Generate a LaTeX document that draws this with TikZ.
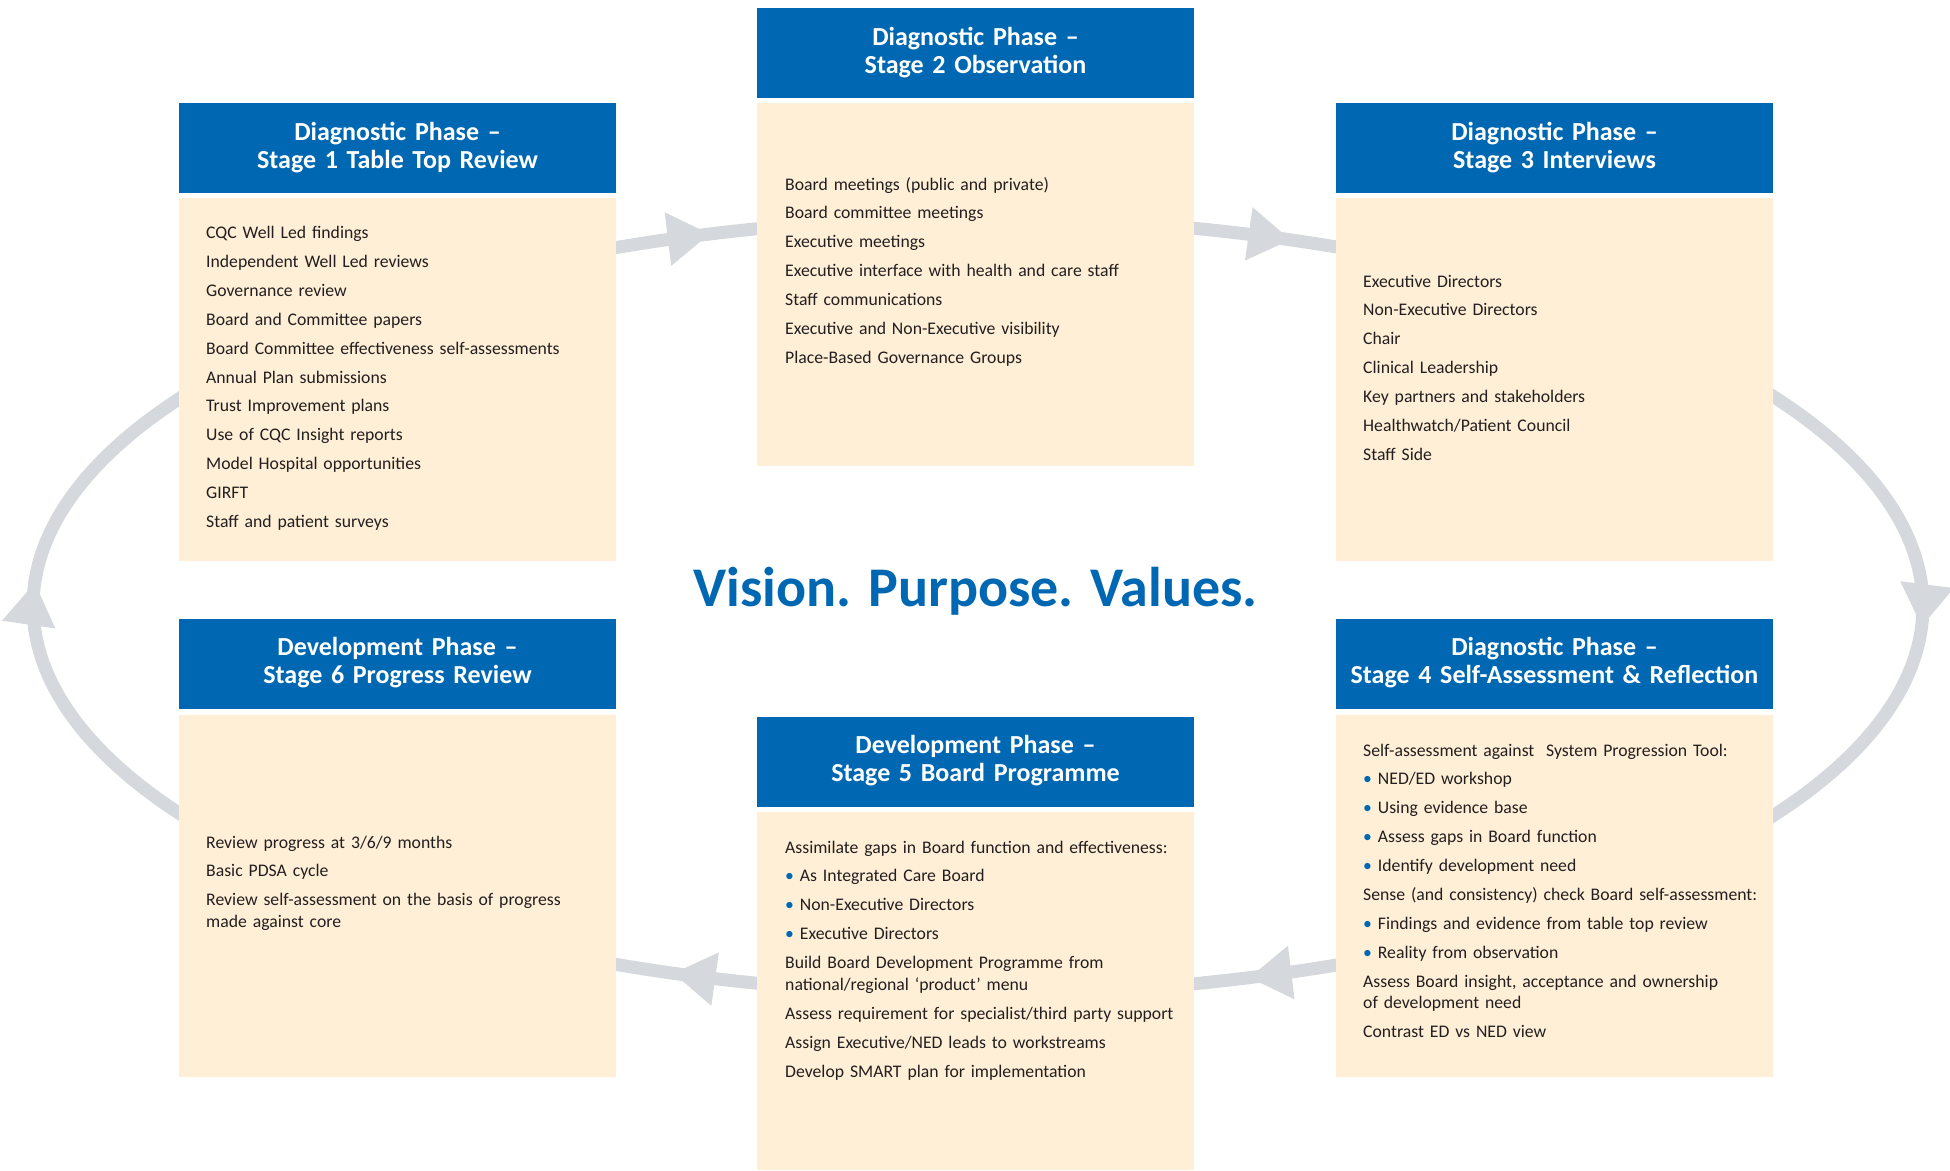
\documentclass[tikz,border=0pt]{standalone}
\usepackage{fontspec}
\setmainfont{Carlito}
\definecolor{hblue}{RGB}{0,104,179}
\definecolor{cream}{RGB}{254,239,214}
\definecolor{ringgray}{RGB}{213,216,220}
\definecolor{bodytext}{RGB}{35,31,32}
\newcommand{\bul}{{\color{hblue}\textbullet}\ }
\tikzset{
  hdrbox/.style={anchor=north west, fill=hblue, inner sep=0pt, minimum width=437pt, minimum height=90pt},
  bodyrect/.style={anchor=north west, fill=cream, inner sep=0pt, minimum width=437pt},
  hdrtext/.style={anchor=base, text width=437pt, align=center, inner sep=0pt, text=white,
    font=\fontsize{26}{28}\selectfont\bfseries},
  bodytxt/.style={anchor=base west, text width=420pt, align=left, inner sep=0pt, text=bodytext,
    font=\fontsize{17.7}{21.7}\selectfont},
  titletext/.style={anchor=base, inner sep=0pt, text=hblue, font=\fontsize{56}{60}\selectfont\bfseries}
}
\begin{document}
\begin{tikzpicture}[x=1pt,y=-1pt]
\useasboundingbox (0,0) rectangle (1950,1170);
% cycle ring
\draw[line width=13pt, ringgray] plot[domain=0:360, samples=200, smooth] ({978+945*cos(\x)},{606+388*sin(\x)}) -- cycle;
\foreach \t in {-106.5,-70.7,3,73.3,108.8,183.4} {
  \pgfmathsetmacro\px{978+945*cos(\t)}
  \pgfmathsetmacro\py{606+388*sin(\t)}
  \pgfmathsetmacro\dx{-0.945*sin(\t)}
  \pgfmathsetmacro\dy{0.388*cos(\t)}
  \pgfmathsetmacro\dl{sqrt(\dx*\dx+\dy*\dy)}
  \pgfmathsetmacro\ux{\dx/\dl}
  \pgfmathsetmacro\uy{\dy/\dl}
  \fill[ringgray] (\px,\py) -- ({\px-42*\ux-27*\uy},{\py-42*\uy+27*\ux}) -- ({\px-42*\ux+27*\uy},{\py-42*\uy-27*\ux}) -- cycle;
}
% Stage 1
\node[hdrbox] (h1) at (179,103) {};
\node[bodyrect, minimum height=363pt] (b1) at (179,198) {};
\node[hdrtext] (t1) at (397.5,140) {Diagnostic Phase –\\Stage 1 Table Top Review};
\node[bodytxt] (l1) at (206,238.5) {CQC Well Led findings\\[7.2pt]
Independent Well Led reviews\\[7.2pt]
Governance review\\[7.2pt]
Board and Committee papers\\[7.2pt]
Board Committee effectiveness self-assessments\\[7.2pt]
Annual Plan submissions\\[7.2pt]
Trust Improvement plans\\[7.2pt]
Use of CQC Insight reports\\[7.2pt]
Model Hospital opportunities\\[7.2pt]
GIRFT\\[7.2pt]
Staff and patient surveys};
% Stage 2
\node[hdrbox] (h2) at (757,8) {};
\node[bodyrect, minimum height=363pt] (b2) at (757,103) {};
\node[hdrtext] (t2) at (975.5,45) {Diagnostic Phase –\\Stage 2 Observation};
\node[bodytxt] (l2) at (785,190) {Board meetings (public and private)\\[7.2pt]
Board committee meetings\\[7.2pt]
Executive meetings\\[7.2pt]
Executive interface with health and care staff\\[7.2pt]
Staff communications\\[7.2pt]
Executive and Non-Executive visibility\\[7.2pt]
Place-Based Governance Groups};
% Stage 3
\node[hdrbox] (h3) at (1336,103) {};
\node[bodyrect, minimum height=363pt] (b3) at (1336,198) {};
\node[hdrtext] (t3) at (1554.5,140) {Diagnostic Phase –\\Stage 3 Interviews};
\node[bodytxt] (l3) at (1363,287) {Executive Directors\\[7.2pt]
Non-Executive Directors\\[7.2pt]
Chair\\[7.2pt]
Clinical Leadership\\[7.2pt]
Key partners and stakeholders\\[7.2pt]
Healthwatch/Patient Council\\[7.2pt]
Staff Side};
% Stage 4
\node[hdrbox] (h4) at (1336,619) {};
\node[bodyrect, minimum height=362pt] (b4) at (1336,715) {};
\node[hdrtext] (t4) at (1554.5,655) {Diagnostic Phase –\\Stage 4 Self-Assessment \& Reflection};
\node[bodytxt] (l4) at (1363,756) {Self-assessment against\ \ System Progression Tool:\\[7.2pt]
\bul NED/ED workshop\\[7.2pt]
\bul Using evidence base\\[7.2pt]
\bul Assess gaps in Board function\\[7.2pt]
\bul Identify development need\\[7.2pt]
Sense (and consistency) check Board self-assessment:\\[7.2pt]
\bul Findings and evidence from table top review\\[7.2pt]
\bul Reality from observation\\[7.2pt]
Assess Board insight, acceptance and ownership\\of development need\\[7.2pt]
Contrast ED vs NED view};
% Stage 5
\node[hdrbox] (h5) at (757,717) {};
\node[bodyrect, minimum height=358pt] (b5) at (757,812) {};
\node[hdrtext] (t5) at (975.5,753) {Development Phase –\\Stage 5 Board Programme};
\node[bodytxt] (l5) at (785,853) {Assimilate gaps in Board function and effectiveness:\\[7.2pt]
\bul As Integrated Care Board\\[7.2pt]
\bul Non-Executive Directors\\[7.2pt]
\bul Executive Directors\\[7.2pt]
Build Board Development Programme from\\national/regional ‘product’ menu\\[7.2pt]
Assess requirement for specialist/third party support\\[7.2pt]
Assign Executive/NED leads to workstreams\\[7.2pt]
Develop SMART plan for implementation};
% Stage 6
\node[hdrbox] (h6) at (179,619) {};
\node[bodyrect, minimum height=362pt] (b6) at (179,715) {};
\node[hdrtext] (t6) at (397.5,655) {Development Phase –\\Stage 6 Progress Review};
\node[bodytxt] (l6) at (206,848) {Review progress at 3/6/9 months\\[7.2pt]
Basic PDSA cycle\\[7.2pt]
Review self-assessment on the basis of progress\\made against core};
% Title
\node[titletext] (title) at (975.5,606) {Vision. Purpose. Values.};
\end{tikzpicture}
\end{document}
